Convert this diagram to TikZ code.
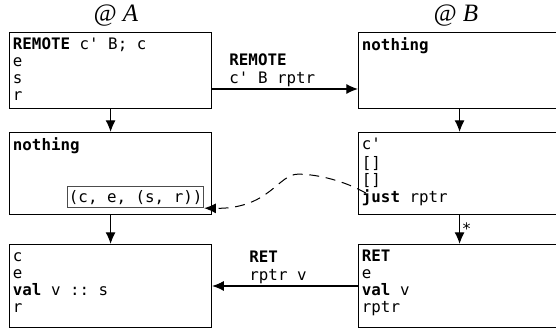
\documentclass[tikz,border=0pt]{standalone}
\usepackage{fontspec}
\setmonofont{DejaVu Sans Mono}
\newfontfamily\titlefont{Liberation Serif}
\usetikzlibrary{arrows.meta,calc}

\newcommand{\codefont}{\ttfamily\fontsize{9.5}{10.2}\selectfont}
\newcommand{\cell}[2]{\parbox[t][#1][t]{117.2pt}{\strut#2}}

\tikzset{
  frame/.style={draw, line width=0.7pt, anchor=north west, inner xsep=2pt, inner ysep=3pt, font=\codefont},
  flow/.style={-{Latex[length=7pt,width=6pt]}, line width=0.7pt},
  msg/.style={align=left, inner sep=1pt, font=\ttfamily\fontsize{9.5}{10.8}\selectfont},
  site/.style={font=\titlefont\itshape\fontsize{15}{17}\selectfont},
}

\begin{document}
\begin{tikzpicture}[x=0.6pt,y=-0.6pt]
    \useasboundingbox (0,0) rectangle (556,329);
    \clip (0,0) rectangle (556,329);

    % Sitios
    \node[site] (siteA) at (116,16) {@ A};
    \node[site] (siteB) at (456,16) {@ B};

    % Cajas del sitio A
    \node[frame] (a1) at (9,32)  {\cell{39.6pt}{\textbf{REMOTE} c' B; c\\e\\s\\r}};
    \node[frame] (a2) at (9,132) {\cell{43.2pt}{\textbf{nothing}}};
    \node[frame] (a3) at (9,244) {\cell{43.8pt}{c\\e\\\textbf{val} v :: s\\r}};

    % Cajas del sitio B
    \node[frame] (b1) at (358,32)  {\cell{39.6pt}{\textbf{nothing}}};
    \node[frame] (b2) at (358,132) {\cell{43.2pt}{c'\\{[]}\\{[]}\\\textbf{just} rptr}};
    \node[frame] (b3) at (358,244) {\cell{43.8pt}{\textbf{RET}\\e\\\textbf{val} v\\rptr}};

    % Tupla guardada
    \node[draw=black!70, line width=0.5pt, inner xsep=0.8pt, inner ysep=2pt,
          anchor=south east, font=\codefont] (tup) at ($(a2.south east)+(-8,-7)$) {(c, e, (s, r))};

    % Pasos locales
    \draw[flow] (a1) -- (a2);
    \draw[flow] (a2) -- (a3);
    \draw[flow] (b1) -- (b2);
    \draw[flow] (b2) -- (b3) node[pos=0.45, right, inner sep=1pt, font=\codefont] (star) {*};

    % Mensajes
    \coordinate (req) at ($(a1.north east)+(0,57)$);
    \draw[flow] (req) -- (req -| b1.west)
        node[msg, pos=0, anchor=south west, xshift=9pt] (reqlbl) {\textbf{REMOTE}\\c' B rptr};
    \coordinate (rep) at ($(b3.north west)+(0,42)$);
    \draw[flow] (rep) -- (rep -| a3.east)
        node[msg, pos=1, anchor=south west, xshift=21pt] (replbl) {\textbf{RET}\\rptr v};

    % Puntero remoto
    \coordinate (jst) at ($(b2.south west)+(8,-22)$);
    \coordinate (peak) at ($(jst)+(-68,-19)$);
    \draw[dashed, dash pattern=on 6pt off 4pt, line width=0.6pt, -{Latex[length=7pt,width=6pt]}]
        (jst) .. controls ($(jst)+(-21,-12)$) and ($(peak)+(20,0)$) .. (peak)
        .. controls ($(peak)+(-20,0)$) and ($(tup.south east)+(65,1)$) .. (tup.south east);
\end{tikzpicture}
\end{document}
